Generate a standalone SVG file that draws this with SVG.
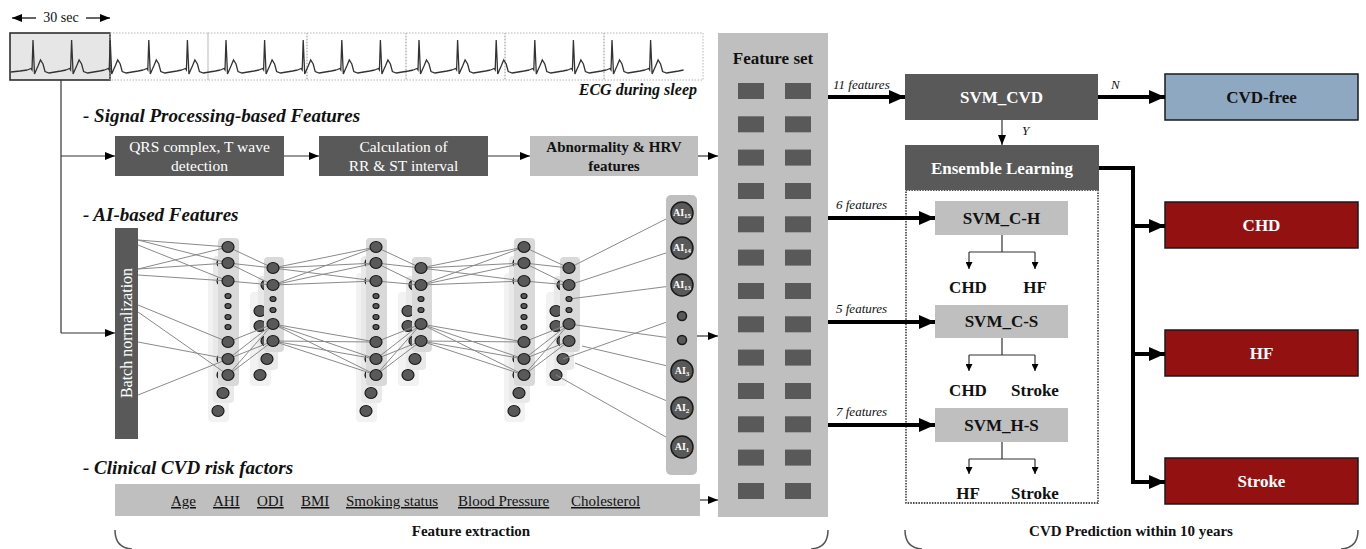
<svg xmlns="http://www.w3.org/2000/svg" xmlns:xlink="http://www.w3.org/1999/xlink" width="1366" height="549" viewBox="0 0 1366 549">
<style>
text{font-family:"Liberation Serif","Times New Roman",serif}
.b{font-weight:bold}
.bi{font-weight:bold;font-style:italic}
.it{font-style:italic}
.dk{fill:#595959}
.lt{fill:#bfbfbf}
.red{fill:#941111;stroke:#1a1a1a;stroke-width:1.5}
.w{fill:#fff}
.k{fill:#111}
.nl{stroke:#8a8a8a;stroke-width:1;fill:none}
.nd{fill:#595959;stroke:#1a1a1a;stroke-width:1.2}
.thin{stroke:#333;stroke-width:1.2;fill:none}
.thick{stroke:#000;stroke-width:4;fill:none}
.brace{stroke:#555;stroke-width:1.5;fill:none}
</style>
<defs>
<marker id="ah" markerUnits="userSpaceOnUse" markerWidth="10" markerHeight="8" refX="10" refY="4" orient="auto"><path d="M0,0 L10,4 L0,8 z" fill="#000"/></marker>
<marker id="ahT" markerUnits="userSpaceOnUse" markerWidth="16" markerHeight="14" refX="16" refY="7" orient="auto"><path d="M0,0 L16,7 L0,14 z" fill="#000"/></marker>
<marker id="ahS" markerUnits="userSpaceOnUse" markerWidth="7" markerHeight="7" refX="7" refY="3.5" orient="auto"><path d="M0,0 L7,3.5 L0,7 z" fill="#000"/></marker>
<path id="beat" d="M-5.6 70 L-2 68.5 L-1 70 L0 40 L1.5 74 L3 70.5 L5 66 L7.5 60 L10 64 L12 71.5 L16 73 L22 72 L28 71 L33 70" fill="none" stroke="#333" stroke-width="1.3"/>
<g id="layerAbg">
<rect x="-20" y="273" width="21" height="149" rx="4" fill="#f2f2f2"/>
<rect x="-15" y="256" width="21" height="147" rx="4" fill="#e9e9e9"/>
<ellipse cx="-10" cy="411" rx="6" ry="5.5" class="nd"/>
<ellipse cx="-5" cy="393" rx="6" ry="5.5" class="nd"/>
<ellipse cx="-5" cy="263" rx="6" ry="5.5" class="nd"/>
<ellipse cx="-5" cy="281" rx="6" ry="5.5" class="nd"/>
<ellipse cx="-5" cy="359" rx="6" ry="5.5" class="nd"/>
<ellipse cx="-5" cy="375" rx="6" ry="5.5" class="nd"/>
<rect x="-10" y="238" width="21" height="148" rx="4" fill="#d9d9d9"/>
</g>
<g id="layerAfg">
<ellipse cx="0" cy="247" rx="6" ry="5.5" class="nd"/>
<ellipse cx="0" cy="263" rx="6" ry="5.5" class="nd"/>
<ellipse cx="0" cy="281" rx="6" ry="5.5" class="nd"/>
<ellipse cx="0" cy="296" rx="3" ry="2.5" class="nd"/>
<ellipse cx="0" cy="306" rx="3" ry="2.5" class="nd"/>
<ellipse cx="0" cy="317" rx="3" ry="2.5" class="nd"/>
<ellipse cx="0" cy="327" rx="3" ry="2.5" class="nd"/>
<ellipse cx="0" cy="342" rx="6" ry="5.5" class="nd"/>
<ellipse cx="0" cy="359" rx="6" ry="5.5" class="nd"/>
<ellipse cx="0" cy="375" rx="6" ry="5.5" class="nd"/>
</g>
<g id="layerBbg">
<rect x="-23" y="292" width="21" height="94" rx="4" fill="#f2f2f2"/>
<rect x="-15" y="276" width="20" height="94" rx="4" fill="#e9e9e9"/>
<ellipse cx="-13" cy="375" rx="6" ry="5.5" class="nd"/>
<ellipse cx="-6" cy="359" rx="6" ry="5.5" class="nd"/>
<ellipse cx="-13" cy="311" rx="6" ry="5.5" class="nd"/>
<ellipse cx="-13" cy="326" rx="6" ry="5.5" class="nd"/>
<ellipse cx="-6" cy="285" rx="6" ry="5.5" class="nd"/>
<ellipse cx="-6" cy="341" rx="6" ry="5.5" class="nd"/>
<rect x="-9" y="257" width="20" height="95" rx="4" fill="#d9d9d9"/>
</g>
<g id="layerBfg">
<ellipse cx="0" cy="268" rx="6" ry="5.5" class="nd"/>
<ellipse cx="0" cy="285" rx="6" ry="5.5" class="nd"/>
<ellipse cx="0" cy="299" rx="3" ry="2.5" class="nd"/>
<ellipse cx="0" cy="310" rx="3" ry="2.5" class="nd"/>
<ellipse cx="0" cy="324" rx="6" ry="5.5" class="nd"/>
<ellipse cx="0" cy="341" rx="6" ry="5.5" class="nd"/>
</g>
<g id="connAB" class="nl">
<path d="M0 247L45 268M0 263L45 268M0 263L45 285M0 281L45 285M0 342L45 324M0 359L45 324M0 359L45 341M0 375L45 324M0 375L45 341"/>
</g>
<g id="connBA" class="nl">
<path d="M0 268L103 247M0 268L103 263M0 268L103 281M0 285L103 247M0 285L103 263M0 285L103 281M0 324L103 342M0 324L103 359M0 324L103 375M0 341L103 342M0 341L103 359M0 341L103 375"/>
</g>
</defs>

<rect width="1366" height="549" fill="#fff"/>

<!-- ECG strip -->
<g id="ecg">
<text x="61" y="22" font-size="14" text-anchor="middle" class="k">30 sec</text>
<line x1="36" y1="18" x2="12" y2="18" stroke="#000" stroke-width="1.2" marker-end="url(#ah)"/>
<line x1="86" y1="18" x2="110" y2="18" stroke="#000" stroke-width="1.2" marker-end="url(#ah)"/>
<rect x="10" y="33" width="100" height="47" fill="#e6e6e6" stroke="#222" stroke-width="1.5"/>
<g fill="none" stroke="#b5b5b5" stroke-width="1" stroke-dasharray="1.5 1.5">
<rect x="110" y="33" width="98" height="47"/>
<rect x="208" y="33" width="99" height="47"/>
<rect x="307" y="33" width="99" height="47"/>
<rect x="406" y="33" width="99" height="47"/>
<rect x="505" y="33" width="99" height="47"/>
<rect x="604" y="33" width="99" height="47"/>
</g>
<path d="M11 72 L20 71 L27.4 70" fill="none" stroke="#333" stroke-width="1.3"/>
<use xlink:href="#beat" x="33"/><use xlink:href="#beat" x="71.6"/><use xlink:href="#beat" x="110.2"/>
<use xlink:href="#beat" x="148.8"/><use xlink:href="#beat" x="187.4"/><use xlink:href="#beat" x="226"/>
<use xlink:href="#beat" x="264.6"/><use xlink:href="#beat" x="303.2"/><use xlink:href="#beat" x="341.8"/>
<use xlink:href="#beat" x="380.4"/><use xlink:href="#beat" x="419"/><use xlink:href="#beat" x="457.6"/>
<use xlink:href="#beat" x="496.2"/><use xlink:href="#beat" x="534.8"/><use xlink:href="#beat" x="573.4"/>
<use xlink:href="#beat" x="612"/><use xlink:href="#beat" x="650.6"/>
<text x="697" y="95" font-size="16" text-anchor="end" class="bi k">ECG during sleep</text>
</g>

<!-- headings -->
<text x="83" y="122" font-size="19" class="bi k">- Signal Processing-based Features</text>
<text x="83" y="221" font-size="19" class="bi k">- AI-based Features</text>
<text x="83" y="474" font-size="19" class="bi k">- Clinical CVD risk factors</text>

<!-- signal processing boxes -->
<g id="qrs">
<rect x="115" y="136" width="169" height="40" class="dk"/>
<text x="199.5" y="152" font-size="15.5" text-anchor="middle" class="w">QRS complex, T wave</text>
<text x="199.5" y="171" font-size="15.5" text-anchor="middle" class="w">detection</text>
</g>
<g id="calc">
<rect x="319" y="136" width="169" height="40" class="dk"/>
<text x="403.5" y="152" font-size="15.5" text-anchor="middle" class="w">Calculation of</text>
<text x="403.5" y="171" font-size="15.5" text-anchor="middle" class="w">RR &amp; ST  interval</text>
</g>
<g id="abn">
<rect x="530" y="136" width="168" height="40" class="lt"/>
<text x="614" y="152" font-size="15" text-anchor="middle" class="b k">Abnormality  &amp; HRV</text>
<text x="614" y="171" font-size="15" text-anchor="middle" class="b k">features</text>
</g>

<!-- batch normalization -->
<g id="batchnorm">
<rect x="115" y="228" width="23" height="211" class="dk"/>
<text transform="translate(131.5 333) rotate(-90)" font-size="16" text-anchor="middle" class="w">Batch normalization</text>
</g>

<!-- neural network -->
<g id="network">
<use xlink:href="#layerAbg" x="228"/><use xlink:href="#layerBbg" x="273"/>
<use xlink:href="#layerAbg" x="376"/><use xlink:href="#layerBbg" x="421"/>
<use xlink:href="#layerAbg" x="524"/><use xlink:href="#layerBbg" x="569"/>
<path class="nl" d="M138 240L228 247M138 240L228 263M138 245L228 281M138 269L228 247M138 269L228 263M138 275L228 281M138 305L228 342M138 312L228 375M138 342L228 359M138 395L228 359"/>
<use xlink:href="#connAB" x="228"/><use xlink:href="#connBA" x="273"/>
<use xlink:href="#connAB" x="376"/><use xlink:href="#connBA" x="421"/>
<use xlink:href="#connAB" x="524"/>
<path class="nl" d="M569 268L672 216M569 285L672 251M569 299L671 286M569 324L678 339M563 359L678 318M582 346L672 367M575 363L672 403M556 375L673 441"/>
<use xlink:href="#layerAfg" x="228"/><use xlink:href="#layerBfg" x="273"/>
<use xlink:href="#layerAfg" x="376"/><use xlink:href="#layerBfg" x="421"/>
<use xlink:href="#layerAfg" x="524"/><use xlink:href="#layerBfg" x="569"/>
</g>

<!-- AI output column -->
<g id="ai-column">
<rect x="666" y="195" width="31" height="280" rx="5" class="lt"/>
<g stroke="#1a1a1a" stroke-width="1.5" fill="#595959">
<circle cx="682" cy="213" r="11"/><circle cx="682" cy="248" r="11"/><circle cx="682" cy="285" r="11"/>
<circle cx="682" cy="316" r="4.5"/><circle cx="682" cy="340" r="4.5"/>
<circle cx="682" cy="371" r="11"/><circle cx="682" cy="408" r="11"/><circle cx="682" cy="447" r="11"/>
</g>
<g font-size="10" class="b w" text-anchor="middle">
<text x="682" y="216">AI<tspan font-size="7" dy="2">15</tspan></text>
<text x="682" y="251">AI<tspan font-size="7" dy="2">14</tspan></text>
<text x="682" y="288">AI<tspan font-size="7" dy="2">13</tspan></text>
<text x="682" y="374">AI<tspan font-size="7" dy="2">3</tspan></text>
<text x="682" y="411">AI<tspan font-size="7" dy="2">2</tspan></text>
<text x="682" y="450">AI<tspan font-size="7" dy="2">1</tspan></text>
</g>
</g>

<!-- clinical risk factors -->
<g id="clinical">
<rect x="115" y="484" width="585" height="32" class="lt"/>
<g font-size="15" class="k" text-decoration="underline">
<text x="171" y="506">Age</text>
<text x="213" y="506">AHI</text>
<text x="257" y="506">ODI</text>
<text x="301" y="506">BMI</text>
<text x="346" y="506">Smoking status</text>
<text x="458" y="506">Blood Pressure</text>
<text x="571" y="506">Cholesterol</text>
</g>
</g>

<!-- feature set -->
<g id="featureset">
<rect x="718" y="33" width="110" height="484" class="lt"/>
<text x="773" y="64" font-size="17" text-anchor="middle" class="b k">Feature set</text>
<g class="dk">
<rect x="738" y="83" width="26" height="16"/><rect x="785" y="83" width="26" height="16"/>
<rect x="738" y="116.3" width="26" height="16"/><rect x="785" y="116.3" width="26" height="16"/>
<rect x="738" y="149.6" width="26" height="16"/><rect x="785" y="149.6" width="26" height="16"/>
<rect x="738" y="183" width="26" height="16"/><rect x="785" y="183" width="26" height="16"/>
<rect x="738" y="216.3" width="26" height="16"/><rect x="785" y="216.3" width="26" height="16"/>
<rect x="738" y="249.6" width="26" height="16"/><rect x="785" y="249.6" width="26" height="16"/>
<rect x="738" y="283" width="26" height="16"/><rect x="785" y="283" width="26" height="16"/>
<rect x="738" y="316.3" width="26" height="16"/><rect x="785" y="316.3" width="26" height="16"/>
<rect x="738" y="349.6" width="26" height="16"/><rect x="785" y="349.6" width="26" height="16"/>
<rect x="738" y="383" width="26" height="16"/><rect x="785" y="383" width="26" height="16"/>
<rect x="738" y="416.3" width="26" height="16"/><rect x="785" y="416.3" width="26" height="16"/>
<rect x="738" y="449.6" width="26" height="16"/><rect x="785" y="449.6" width="26" height="16"/>
<rect x="738" y="483" width="26" height="16"/><rect x="785" y="483" width="26" height="16"/>
</g>
</g>

<!-- prediction section -->
<rect x="906" y="190" width="192" height="313" fill="none" stroke="#111" stroke-width="1.3" stroke-dasharray="1.5 1.2"/>
<g id="svm-cvd">
<rect x="905" y="74" width="193" height="46" class="dk"/>
<text x="1001.5" y="103" font-size="17" text-anchor="middle" class="b w">SVM_CVD</text>
</g>
<g id="cvd-free">
<rect x="1165" y="74" width="193" height="46" fill="#8fa8c1" stroke="#1a1a1a" stroke-width="1.5"/>
<text x="1261.5" y="103" font-size="17" text-anchor="middle" class="b k">CVD-free</text>
</g>
<g id="ensemble">
<rect x="905" y="145" width="194" height="45" class="dk"/>
<text x="1002" y="174" font-size="17" text-anchor="middle" class="b w">Ensemble Learning</text>
</g>
<g id="svm-ch">
<rect x="935" y="201" width="133" height="34" class="lt"/>
<text x="1001.5" y="224" font-size="17" text-anchor="middle" class="b k">SVM_C-H</text>
</g>
<g id="svm-cs">
<rect x="935" y="305" width="133" height="33" class="lt"/>
<text x="1001.5" y="327" font-size="17" text-anchor="middle" class="b k">SVM_C-S</text>
</g>
<g id="svm-hs">
<rect x="935" y="408" width="133" height="34" class="lt"/>
<text x="1001.5" y="431" font-size="17" text-anchor="middle" class="b k">SVM_H-S</text>
</g>
<g font-size="17" text-anchor="middle" class="b k">
<text x="968" y="293">CHD</text><text x="1035" y="293">HF</text>
<text x="968" y="396">CHD</text><text x="1035" y="396">Stroke</text>
<text x="968" y="499">HF</text><text x="1035" y="499">Stroke</text>
</g>
<g id="out-chd">
<rect x="1165" y="202" width="193" height="46" class="red"/>
<text x="1261.5" y="231" font-size="17" text-anchor="middle" class="b w">CHD</text>
</g>
<g id="out-hf">
<rect x="1165" y="330" width="193" height="46" class="red"/>
<text x="1261.5" y="359" font-size="17" text-anchor="middle" class="b w">HF</text>
</g>
<g id="out-stroke">
<rect x="1165" y="458" width="193" height="46" class="red"/>
<text x="1261.5" y="487" font-size="17" text-anchor="middle" class="b w">Stroke</text>
</g>

<!-- connectors -->
<g id="connectors">
<path class="thin" d="M61 80 V333"/>
<path class="thin" d="M61 156 H115" marker-end="url(#ah)"/>
<path class="thin" d="M61 333 H115" marker-end="url(#ah)"/>
<path class="thin" d="M284 156 H319" marker-end="url(#ah)"/>
<path class="thin" d="M488 156 H530" marker-end="url(#ah)"/>
<path class="thin" d="M698 156 H718" marker-end="url(#ah)"/>
<path class="thin" d="M697 336 H718" marker-end="url(#ah)"/>
<path class="thin" d="M700 500 H718" marker-end="url(#ah)"/>
<path class="thick" d="M828 97 H905" marker-end="url(#ahT)"/>
<path class="thick" d="M1098 97 H1165" marker-end="url(#ahT)"/>
<path class="thin" d="M1002 120 V145" marker-end="url(#ah)"/>
<path class="thick" d="M828 218 H935" marker-end="url(#ahT)"/>
<path class="thick" d="M828 322 H935" marker-end="url(#ahT)"/>
<path class="thick" d="M828 425 H935" marker-end="url(#ahT)"/>
<path class="thick" d="M1099 168 H1133 V482"/>
<path class="thick" d="M1131 226 H1165" marker-end="url(#ahT)"/>
<path class="thick" d="M1131 354 H1165" marker-end="url(#ahT)"/>
<path class="thick" d="M1131 482 H1165" marker-end="url(#ahT)"/>
<path class="thin" d="M1002 235 V252 M969 252 H1035"/>
<path class="thin" d="M969 252 V269" marker-end="url(#ahS)"/>
<path class="thin" d="M1035 252 V269" marker-end="url(#ahS)"/>
<path class="thin" d="M1002 338 V355 M969 355 H1035"/>
<path class="thin" d="M969 355 V371" marker-end="url(#ahS)"/>
<path class="thin" d="M1035 355 V371" marker-end="url(#ahS)"/>
<path class="thin" d="M1002 442 V459 M969 459 H1035"/>
<path class="thin" d="M969 459 V474" marker-end="url(#ahS)"/>
<path class="thin" d="M1035 459 V474" marker-end="url(#ahS)"/>
</g>

<!-- connector labels -->
<g font-size="13" class="it k">
<text x="833" y="89">11 features</text>
<text x="836" y="209">6 features</text>
<text x="836" y="313">5 features</text>
<text x="836" y="416">7 features</text>
<text x="1111" y="89">N</text>
<text x="1022" y="135">Y</text>
</g>

<!-- bottom brackets -->
<path class="brace" d="M115 530 Q115 548 132 549"/>
<path class="brace" d="M828 530 Q828 548 811 549"/>
<path class="brace" d="M905 530 Q905 548 922 549"/>
<path class="brace" d="M1358 530 Q1358 548 1341 549"/>
<text x="471" y="536" font-size="15" text-anchor="middle" class="b k">Feature extraction</text>
<text x="1131" y="536" font-size="15" text-anchor="middle" class="b k">CVD Prediction within  10 years</text>
</svg>
